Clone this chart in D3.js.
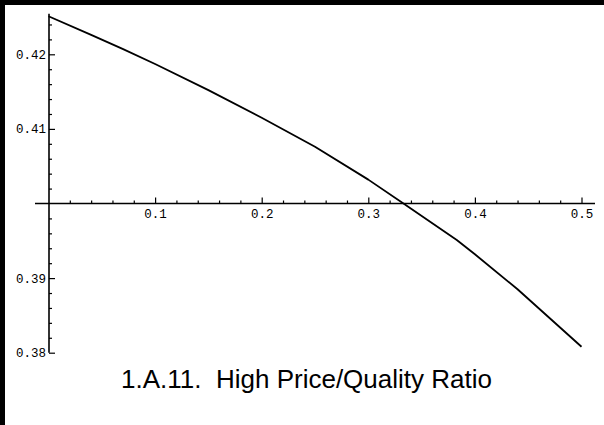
<!DOCTYPE html>
<html>
<head>
<meta charset="utf-8">
<script src="https://cdn.jsdelivr.net/npm/d3@7"></script>
<style>
  html, body { margin: 0; padding: 0; background: #fff; }
  svg { display: block; }
</style>
</head>
<body>
<svg id="chart" width="604" height="425"></svg>
<script>
// ---- data ----
const xValues = [0, 0.04, 0.07, 0.1, 0.15, 0.2, 0.25, 0.3, 0.333, 0.383, 0.4, 0.44, 0.5];
const yValues = [0.4251, 0.4226, 0.4207, 0.4187, 0.4152, 0.4115, 0.4076, 0.4032, 0.4000, 0.3951, 0.3932, 0.3885, 0.3808];
const xMajorTicks = [0.1, 0.2, 0.3, 0.4, 0.5];
const xTickLabels = ["0.1", "0.2", "0.3", "0.4", "0.5"];
const yMajorTicks = [0.38, 0.39, 0.41, 0.42];
const yTickLabels = ["0.38", "0.39", "0.41", "0.42"];
const title = "1.A.11.  High Price/Quality Ratio";

// ---- layout ----
const svg = d3.select("#chart");
const W = 604, H = 425;
svg.append("rect").attr("width", W).attr("height", H).attr("fill", "#fff");
// frame bars (left and top)
svg.append("rect").attr("x", 0).attr("y", 0).attr("width", 5).attr("height", H).attr("fill", "#000");
svg.append("rect").attr("x", 0).attr("y", 0).attr("width", W).attr("height", 5).attr("fill", "#000");

const x = d3.scaleLinear().domain([0, 0.5]).range([48.5, 581.5]);
const y = d3.scaleLinear().domain([0.38, 0.42]).range([352.7, 54.3]);
const originY = 0.40;

const minorX = d3.range(1, 25).map(i => i * 0.02).filter(v => Math.abs(v * 10 - Math.round(v * 10)) > 1e-6);
const minorY = d3.range(0, 23).map(i => 0.38 + i * 0.002).filter(v => Math.abs(v * 100 - Math.round(v * 100)) > 1e-6);

const monoFont = "'Liberation Mono', 'Courier New', monospace";

// x axis (ticks point upward, labels below)
const gx = svg.append("g").attr("transform", `translate(0,${y(originY)})`);
gx.append("g").call(d3.axisBottom(x).tickValues(minorX).tickSize(-3).tickFormat(""))
  .call(g => g.select(".domain").remove());
gx.append("g").call(d3.axisBottom(x).tickValues(xMajorTicks).tickSize(-6).tickPadding(6)
    .tickFormat((d, i) => xTickLabels[i]))
  .call(g => g.select(".domain").remove());
gx.append("line").attr("x1", 35).attr("x2", 595).attr("y1", 0).attr("y2", 0)
  .attr("stroke", "#000").attr("stroke-width", 1.6);

// y axis (ticks point right, labels left)
const gy = svg.append("g").attr("transform", `translate(${x(0) + 0.5},0)`);
gy.append("g").call(d3.axisLeft(y).tickValues(minorY).tickSize(-3).tickFormat(""))
  .call(g => g.select(".domain").remove());
gy.append("g").call(d3.axisLeft(y).tickValues(yMajorTicks).tickSize(-6).tickPadding(3)
    .tickFormat((d, i) => yTickLabels[i]))
  .call(g => g.select(".domain").remove());
gy.append("line").attr("x1", 0).attr("x2", 0).attr("y1", y(0.38)).attr("y2", y(0.42545))
  .attr("stroke", "#000").attr("stroke-width", 1.6);

svg.selectAll(".tick line").attr("stroke", "#000").attr("stroke-width", 1.2);
svg.selectAll(".tick text").attr("font-family", monoFont).attr("font-size", "12.5px").attr("fill", "#000");

// curve
const pts = xValues.map((v, i) => [v, yValues[i]]);
svg.append("path")
  .datum(pts)
  .attr("fill", "none")
  .attr("stroke", "#000")
  .attr("stroke-width", 1.8)
  .attr("stroke-linejoin", "round")
  .attr("d", d3.line().x(d => x(d[0])).y(d => y(d[1])));

// title
svg.append("text")
  .attr("x", 306.5)
  .attr("y", 388)
  .attr("text-anchor", "middle")
  .attr("font-family", "'Liberation Sans', Arial, Helvetica, sans-serif")
  .attr("font-size", "26px")
  .attr("fill", "#000")
  .style("white-space", "pre")
  .text(title);
</script>
</body>
</html>
